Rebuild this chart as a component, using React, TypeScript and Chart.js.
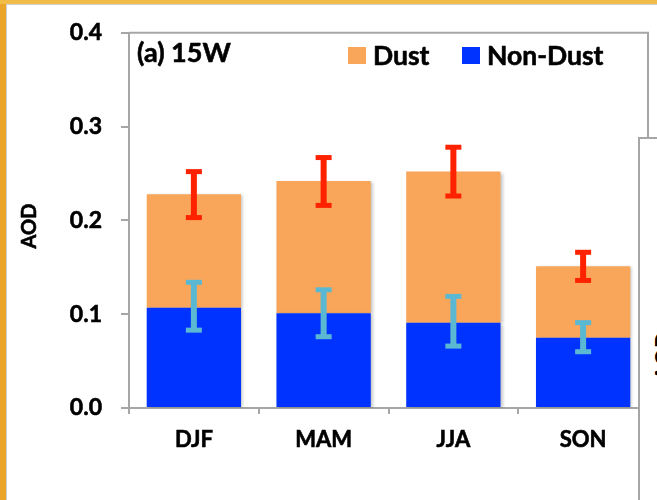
import React, { useEffect, useRef } from "react";
import { Chart, registerables } from "chart.js";

Chart.register(...registerables);

const categories = ["DJF", "MAM", "JJA", "SON"];
const totalAOD = [0.228, 0.242, 0.252, 0.151];
const nonDustAOD = [0.107, 0.101, 0.091, 0.075];
const totalErrLow = [0.203, 0.216, 0.226, 0.136];
const totalErrHigh = [0.252, 0.267, 0.278, 0.166];
const nonDustErrLow = [0.083, 0.076, 0.066, 0.06];
const nonDustErrHigh = [0.134, 0.126, 0.119, 0.091];
const yTicks = [0, 0.1, 0.2, 0.3, 0.4];

const dustAOD = totalAOD.map((t, i) => +(t - nonDustAOD[i]).toFixed(3));

const FONT = "Lato, 'Open Sans', sans-serif";
const GRAY = "#a6a6a6";
const DUST_COLOR = "#F9A65A";
const NONDUST_COLOR = "#0033FF";
const RED = "#FF2200";
const CYAN = "#5BB8D2";

const shadowPlugin = {
  id: "barShadow",
  beforeDatasetDraw(chart: any) {
    const ctx = chart.ctx;
    ctx.save();
    ctx.shadowColor = "rgba(0,0,0,0.22)";
    ctx.shadowBlur = 3;
    ctx.shadowOffsetX = 2;
    ctx.shadowOffsetY = 1;
  },
  afterDatasetDraw(chart: any) {
    chart.ctx.restore();
  },
};

const errorBarPlugin = {
  id: "errorBars",
  afterDatasetsDraw(chart: any) {
    const ctx = chart.ctx;
    const y = chart.scales.y;
    const meta = chart.getDatasetMeta(0);
    const draw = (x: number, lo: number, hi: number, color: string) => {
      const yl = y.getPixelForValue(lo);
      const yh = y.getPixelForValue(hi);
      ctx.save();
      ctx.fillStyle = color;
      ctx.fillRect(x - 3, yh, 6, yl - yh);
      ctx.fillRect(x - 8, yh - 2.5, 16, 5);
      ctx.fillRect(x - 8, yl - 2.5, 16, 5);
      ctx.restore();
    };
    meta.data.forEach((bar: any, i: number) => {
      draw(bar.x, totalErrLow[i], totalErrHigh[i], RED);
      draw(bar.x, nonDustErrLow[i], nonDustErrHigh[i], CYAN);
    });
  },
};

const boldText = (ctx: any, s: string, x: number, y: number) => {
  ctx.fillText(s, x, y);
  ctx.strokeText(s, x, y);
};

const decorPlugin = {
  id: "decor",
  afterDraw(chart: any) {
    const ctx = chart.ctx;
    const a = chart.chartArea;
    ctx.save();
    // frame top and right
    ctx.strokeStyle = GRAY;
    ctx.lineWidth = 2;
    ctx.beginPath();
    ctx.moveTo(a.left, a.top);
    ctx.lineTo(a.right, a.top);
    ctx.lineTo(a.right, a.bottom);
    ctx.stroke();

    ctx.strokeStyle = "#000";
    ctx.lineWidth = 0.6;
    ctx.lineJoin = "round";

    // panel title
    ctx.fillStyle = "#000";
    ctx.font = `bold 27px ${FONT}`;
    ctx.textAlign = "left";
    ctx.textBaseline = "alphabetic";
    boldText(ctx, "(a) 15W", 137, 62);

    // legend
    const ds = chart.data.datasets;
    const items = [
      { d: ds[1], bx: 348, tx: 373 },
      { d: ds[0], bx: 462, tx: 487 },
    ];
    ctx.font = `bold 26.5px ${FONT}`;
    items.forEach((it) => {
      ctx.fillStyle = it.d.backgroundColor;
      ctx.fillRect(it.bx, 47, 18, 17);
      ctx.fillStyle = "#000";
      boldText(ctx, it.d.label, it.tx, 65);
    });

    // y axis title
    ctx.translate(29.5, 226);
    ctx.rotate(-Math.PI / 2);
    ctx.font = `bold 20px ${FONT}`;
    ctx.textAlign = "center";
    ctx.textBaseline = "middle";
    boldText(ctx, "AOD", 0, 0);
    ctx.restore();
  },
};

export default function App() {
  const ref = useRef<HTMLCanvasElement>(null);

  useEffect(() => {
    if (!ref.current) return;
    const chart = new Chart(ref.current, {
      type: "bar",
      data: {
        labels: categories,
        datasets: [
          {
            label: "Non-Dust",
            data: nonDustAOD,
            backgroundColor: NONDUST_COLOR,
            stack: "s",
          },
          {
            label: "Dust",
            data: dustAOD,
            backgroundColor: DUST_COLOR,
            stack: "s",
          },
        ],
      },
      options: {
        responsive: false,
        animation: false,
        layout: { padding: { top: 31, right: 9, left: 0, bottom: 0 } },
        datasets: {
          bar: { categoryPercentage: 1, barPercentage: 0.727 },
        },
        plugins: {
          legend: { display: false },
          tooltip: { enabled: false },
          title: { display: false },
        },
        scales: {
          x: {
            stacked: true,
            grid: {
              display: true,
              drawOnChartArea: false,
              drawTicks: true,
              tickLength: 6,
              color: GRAY,
              lineWidth: 2,
              offset: true,
            },
            border: { display: true, color: GRAY, width: 2 },
            ticks: {
              color: "#000",
              font: { family: FONT, size: 22, weight: "bold" },
              padding: 13,
              textStrokeColor: "#000",
              textStrokeWidth: 0.6,
            },
            afterFit(scale: any) {
              scale.height = 92;
            },
          },
          y: {
            stacked: true,
            min: 0,
            max: 0.4,
            grid: {
              display: true,
              drawOnChartArea: false,
              drawTicks: true,
              tickLength: 8,
              color: GRAY,
              lineWidth: 2,
            },
            border: { display: true, color: GRAY, width: 2 },
            ticks: {
              color: "#000",
              font: { family: FONT, size: 23, weight: "bold" },
              padding: 19,
              textStrokeColor: "#000",
              textStrokeWidth: 0.6,
              callback: (v: any) => Number(v).toFixed(1),
            },
            afterBuildTicks(scale: any) {
              scale.ticks = yTicks.map((v) => ({ value: v }));
            },
            afterFit(scale: any) {
              scale.width = 129;
            },
          },
        },
      },
      plugins: [shadowPlugin, errorBarPlugin, decorPlugin],
    });
    return () => chart.destroy();
  }, []);

  return (
    <div
      style={{
        position: "fixed",
        left: 0,
        top: 0,
        width: 657,
        height: 500,
        overflow: "hidden",
        background: "#EBA52B",
      }}
    >
      <div
        style={{
          position: "absolute",
          left: 0,
          top: 0,
          width: 657,
          height: 4,
          background: "#F2BC48",
        }}
      />
      <div
        style={{
          position: "absolute",
          left: 6,
          top: 4,
          width: 700,
          height: 600,
          background: "#fff",
          borderLeft: "1px solid #d0d0d0",
          borderTop: "1px solid #d0d0d0",
        }}
      />
      <canvas
        ref={ref}
        width={657}
        height={500}
        style={{ position: "absolute", left: 0, top: 0 }}
      />
      <div
        style={{
          position: "absolute",
          left: 638,
          top: 137,
          width: 60,
          height: 400,
          background: "#fff",
          borderLeft: `2px solid ${GRAY}`,
          borderTop: `2px solid ${GRAY}`,
        }}
      >
        <div
          style={{
            position: "absolute",
            left: 24,
            top: 217,
            transform: "translate(-50%, -50%) rotate(-90deg)",
            font: `bold 22px ${FONT}`,
            lineHeight: 1,
            color: "#000",
            whiteSpace: "nowrap",
          }}
        >
          AOD
        </div>
      </div>
    </div>
  );
}
